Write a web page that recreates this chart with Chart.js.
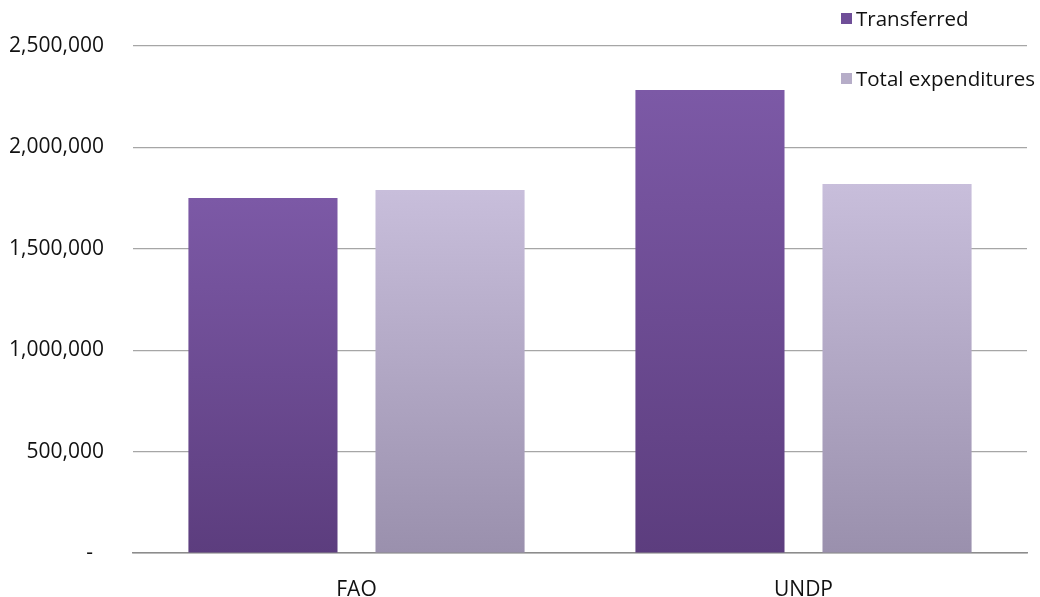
<!DOCTYPE html>
<html>
<head>
<meta charset="utf-8">
<script src="https://cdn.jsdelivr.net/npm/chart.js@4/dist/chart.umd.min.js"></script>
<style>
  html, body { margin:0; padding:0; background:#fff; }
  #wrap { position:relative; width:1040px; height:597px; }
  #legend { position:absolute; left:841px; top:0; font-family:'Open Sans', sans-serif; font-size:20.5px; color:#111; }
  .item { position:absolute; left:0; white-space:nowrap; display:flex; align-items:center; }
  .sw { width:11px; height:11px; margin-right:4px; }
</style>
</head>
<body>
<div id="wrap">
  <canvas id="c" width="1040" height="597"></canvas>
  <div id="legend"></div>
</div>
<script>
const categories = ['FAO', 'UNDP'];
const transferred = [1750000, 2283000];
const totalExpenditures = [1790000, 1820000];
const seriesNames = ['Transferred', 'Total expenditures'];
const yTicks = [0, 500000, 1000000, 1500000, 2000000, 2500000];

const colorStops = [
  ['#7c59a6', '#5c3d7e'],
  ['#c8bedb', '#9a90ad']
];
const legendSwatch = ['#6f4e98', '#b6adc8'];

function grad(ctx, i) {
  const chart = ctx.chart;
  const a = chart.chartArea;
  if (!a || ctx.raw === undefined) return colorStops[i][0];
  const ys = chart.scales.y;
  const top = ys.getPixelForValue(ctx.raw);
  const g = chart.ctx.createLinearGradient(0, top, 0, a.bottom);
  g.addColorStop(0, colorStops[i][0]);
  g.addColorStop(1, colorStops[i][1]);
  return g;
}

const chart = new Chart(document.getElementById('c'), {
  type: 'bar',
  data: {
    labels: categories,
    datasets: [
      { label: seriesNames[0], data: transferred, backgroundColor: c => grad(c, 0) },
      { label: seriesNames[1], data: totalExpenditures, backgroundColor: c => grad(c, 1) }
    ]
  },
  options: {
    responsive: false,
    animation: false,
    categoryPercentage: 0.837,
    barPercentage: 0.797,
    layout: { padding: { top: 46, right: 13, bottom: 0, left: 0 } },
    plugins: { legend: { display: false }, tooltip: { enabled: false } },
    scales: {
      x: {
        grid: { display: false },
        border: { display: true, color: '#8c8c8c', width: 1.5 },
        ticks: { color: '#111', font: { family: 'Open Sans', size: 21 }, padding: 16 },
        afterFit: s => { s.height = 44; }
      },
      y: {
        min: 0, max: 2500000,
        afterBuildTicks: s => { s.ticks = yTicks.map(v => ({ value: v })); },
        grid: { color: '#a6a6a6', lineWidth: 1.2, drawTicks: false },
        border: { display: false },
        ticks: {
          color: '#111',
          font: { family: 'Open Sans', size: 21 },
          padding: 29,
          callback: v => v === 0 ? '-  ' : v.toLocaleString('en-US')
        },
        afterFit: s => { s.width = 133; }
      }
    }
  }
});

const lg = document.getElementById('legend');
const tops = [4, 64];
seriesNames.forEach((n, i) => {
  const d = document.createElement('div');
  d.className = 'item';
  d.style.top = tops[i] + 'px';
  const sw = document.createElement('span');
  sw.className = 'sw';
  sw.style.background = legendSwatch[i];
  const t = document.createElement('span');
  t.textContent = n;
  d.appendChild(sw); d.appendChild(t);
  lg.appendChild(d);
});
</script>
</body>
</html>
